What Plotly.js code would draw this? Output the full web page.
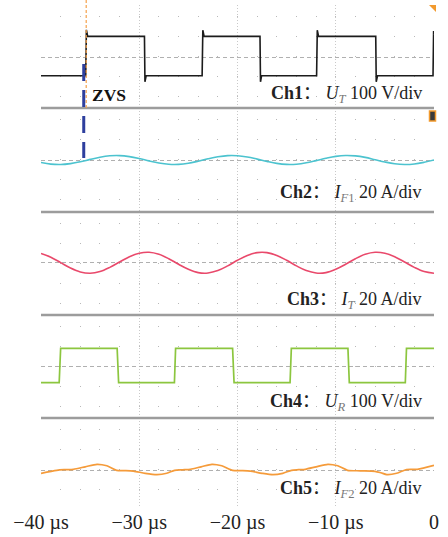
<!DOCTYPE html>
<html><head><meta charset="utf-8">
<script src="https://cdn.plot.ly/plotly-3.0.1.min.js"></script>
<style>html,body{margin:0;padding:0;background:#fff}#chart{width:448px;height:537px}</style>
</head><body><div id="chart"></div>
<script>
// ---------- data ----------
const timeTickVals = [-40, -30, -20, -10, 0];
const timeTickText = ['\u221240 \u00b5s', '\u221230 \u00b5s', '\u221220 \u00b5s', '\u221210 \u00b5s', '0'];

// Ch1: U_T (V)
const ch1Time = [-40, -35.45, -35.38, -35.25, -29.47, -29.42, -29.3, -23.6, -23.53, -23.4, -17.71, -17.66, -17.55, -11.95, -11.88, -11.75, -5.93, -5.88, -5.75, -0.1, -0.04, 0];
const ch1Volt = [-94, -94, 136, 103, 103, -124, -94, -94, 134, 103, 103, -124, -94, -94, 134, 103, 103, -124, -94, -94, 130, 112];

// common sample times for the sinusoidal channels (µs)
const sampleTime = [-40, -39, -38, -37, -36, -35, -34, -33, -32, -31, -30, -29, -28, -27, -26, -25, -24, -23, -22, -21, -20, -19, -18, -17, -16, -15, -14, -13, -12, -11, -10, -9, -8, -7, -6, -5, -4, -3, -2, -1, 0];
// Ch2: I_F1 (A)
const ch2Amp = [-2.0, -3.6, -4.0, -3.1, -1.3, 1.1, 3.3, 4.7, 4.9, 3.9, 2.0, -0.4, -2.5, -3.8, -3.9, -2.8, -0.7, 1.7, 3.7, 4.9, 4.8, 3.5, 1.4, -0.9, -2.9, -3.9, -3.7, -2.3, -0.1, 2.2, 4.1, 5.0, 4.6, 3.1, 0.8, -1.5, -3.3, -4.0, -3.5, -1.8, 0.5];
// Ch3: I_T (A)
const ch3Amp = [9.3, 5.5, 0.1, -5.3, -9.2, -10.5, -8.9, -4.7, 0.7, 6.0, 9.5, 10.4, 8.4, 4.0, -1.6, -6.6, -9.9, -10.3, -7.9, -3.2, 2.4, 7.3, 10.1, 10.1, 7.3, 2.4, -3.2, -7.9, -10.3, -9.9, -6.6, -1.6, 4.0, 8.4, 10.4, 9.5, 6.0, 0.7, -4.7, -8.9, -10.5];

// Ch4: U_R (V)
const ch4Time = [-40, -38.15, -38.0, -32.25, -32.1, -26.42, -26.3, -20.5, -20.35, -14.65, -14.52, -8.76, -8.62, -2.92, -2.8, 0];
const ch4Volt = [-83.5, -83.5, 88.5, 88.5, -83.5, -83.5, 88.5, 88.5, -83.5, -83.5, 88.5, 88.5, -83.5, -83.5, 88.5, 88.5];

// Ch5: I_F2 (A)
const ch5Time = [-40, -38.4, -37.6, -36.7, -35.5, -34.3, -33.3, -32.3, -31.5, -30.6, -29.4, -28.2, -27.2, -26.4, -25.6, -24.8, -23.7, -22.6, -21.6, -20.5, -19.6, -18.7, -17.5, -16.4, -15.4, -14.5, -13.8, -13.1, -12.0, -10.8, -9.8, -8.8, -7.5, -6.0, -5.4, -4.8, -3.8, -2.8, -1.7, 0];
const ch5Amp = [-3, 0, 0.6, 1.0, 3.5, 6, 4.5, 0, -0.3, -0.8, -3, -4.3, -3, 0, 0.5, 1, 3.5, 6, 4.5, 0, -0.3, -0.8, -3, -4.3, -3, 0, 0.6, 1, 3.5, 6, 4.5, 0, -0.5, -1, -2.5, -4.3, -3, 0.7, 1, 5];

const zvsTime = -35.65;      // ZVS marker
const triggerTime = -35.4;   // trigger cursor

const channelLabels = [
  '<b>Ch1</b>\uff1a <i>U</i><sub><i><span style="color:#777">T</span></i></sub> 100 V/div',
  '<b>Ch2</b>\uff1a <i>I</i><sub><i><span style="color:#777">F</span></i><span style="color:#777">1</span></sub> 20 A/div',
  '<b>Ch3</b>\uff1a <i>I</i><sub><i><span style="color:#777">T</span></i></sub> 20 A/div',
  '<b>Ch4</b>\uff1a <i>U</i><sub><i><span style="color:#777">R</span></i></sub> 100 V/div',
  '<b>Ch5</b>\uff1a <i>I</i><sub><i><span style="color:#777">F</span></i><span style="color:#777">2</span></sub> 20 A/div'
];

// ---------- layout geometry ----------
const W = 448, H = 537, ML = 41, MR = 14, MT = 5, MB = 29;
const plotW = W - ML - MR, plotH = H - MT - MB;
const edges = [5, 108, 212, 315, 418, 508];           // panel pixel edges
const centers = [57, 160.5, 262.7, 366, 470.3];       // dashed zero line pixel y
const unitPerPx = [5, 1, 1, 5, 1];
const labelY = [95, 193, 300, 402, 489];
function py(y) { return (H - MB - y) / plotH; }
function px(x) { return (x - ML) / plotW; }

const serif = 'Liberation Serif, "Times New Roman", "Noto Sans CJK SC", serif';
const colors = ['#1c1c1c', '#4cc3cf', '#e9496b', '#8cc63f', '#f59b3a'];

const traces = [
  {x: ch1Time, y: ch1Volt, yaxis: 'y', line: {color: colors[0], width: 1.6}},
  {x: sampleTime, y: ch2Amp, yaxis: 'y2', line: {color: colors[1], width: 1.6, shape: 'spline', smoothing: 1}},
  {x: sampleTime, y: ch3Amp, yaxis: 'y3', line: {color: colors[2], width: 1.6, shape: 'spline', smoothing: 1}},
  {x: ch4Time, y: ch4Volt, yaxis: 'y4', line: {color: colors[3], width: 1.7}},
  {x: ch5Time, y: ch5Amp, yaxis: 'y5', line: {color: colors[4], width: 1.7, shape: 'spline', smoothing: 0.7}}
].map(t => Object.assign({type: 'scatter', mode: 'lines', xaxis: 'x', hoverinfo: 'skip', showlegend: false}, t));

const layout = {
  width: W, height: H,
  margin: {l: ML, r: MR, t: MT, b: MB, pad: 0},
  paper_bgcolor: '#fff', plot_bgcolor: '#fff',
  showlegend: false,
  xaxis: {
    range: [-40, 0], anchor: 'y5', tickmode: 'array', tickvals: timeTickVals, ticktext: timeTickText,
    showgrid: true, gridcolor: '#c9c9c9', griddash: '1px,2px', gridwidth: 1,
    minor: {tickmode: 'linear', tick0: 0, dtick: 2, showgrid: true, gridcolor: '#b9b9b9', griddash: '0px,11px,1px,8px', gridwidth: 1},
    zeroline: false, showline: false, ticks: '',
    tickfont: {family: serif, size: 20, color: '#222'}, fixedrange: true
  },
  shapes: [], annotations: []
};

for (let i = 0; i < 5; i++) {
  const key = i === 0 ? 'yaxis' : 'yaxis' + (i + 1);
  const lo = -(edges[i + 1] - centers[i]) * unitPerPx[i];
  const hi = (centers[i] - edges[i]) * unitPerPx[i];
  layout[key] = {
    domain: [py(edges[i + 1]), py(edges[i])], range: [lo, hi],
    anchor: 'x', tickmode: 'array', tickvals: [0], showticklabels: false, ticks: '',
    showgrid: true, gridcolor: '#b0b0b0', griddash: '4px,3px', gridwidth: 1,
    zeroline: false, showline: false, fixedrange: true
  };
  layout.annotations.push({
    xref: 'paper', yref: 'paper', x: px(424), y: py(labelY[i]), xanchor: 'right', yanchor: 'middle',
    text: channelLabels[i], showarrow: false, font: {family: serif, size: 18, color: '#222'}
  });
}
// panel separators
[108, 212, 315, 418].forEach(y => layout.shapes.push({
  type: 'line', xref: 'paper', yref: 'paper', x0: 0, x1: 1, y0: py(y), y1: py(y),
  line: {color: '#9c9c9c', width: 2.5}, layer: 'above'
}));
// trigger cursor (orange dotted)
layout.shapes.push({type: 'line', xref: 'x', yref: 'paper', x0: triggerTime, x1: triggerTime, y0: py(108), y1: py(0),
  line: {color: '#f5a24c', width: 1.2, dash: '3px,2px'}, layer: 'above'});
// ZVS marker (blue dashed)
layout.shapes.push({type: 'line', xref: 'x', yref: 'paper', x0: zvsTime, x1: zvsTime, y0: py(64), y1: py(158),
  line: {color: '#2e3f9e', width: 3, dash: '17px,9px'}, layer: 'above'});
// trigger markers on the right edge
layout.shapes.push({type: 'path', xref: 'paper', yref: 'paper',
  path: 'M' + px(429) + ',' + py(5) + ' L' + px(436) + ',' + py(5) + ' L' + px(436) + ',' + py(12) + ' Z',
  fillcolor: '#f29a2e', line: {width: 0}, layer: 'above'});
layout.shapes.push({type: 'rect', xref: 'paper', yref: 'paper', x0: px(429.5), x1: px(435.5), y0: py(121), y1: py(111),
  fillcolor: '#3a3a3a', line: {color: '#f29a2e', width: 1.5}, layer: 'above'});
// ZVS label
layout.annotations.push({xref: 'paper', yref: 'paper', x: px(90), y: py(95), xanchor: 'left', yanchor: 'middle',
  text: '<b>ZVS</b>', showarrow: false, font: {family: serif, size: 17.5, color: '#111'}});

Plotly.newPlot('chart', traces, layout, {staticPlot: true, displayModeBar: false});
</script>
</body></html>
